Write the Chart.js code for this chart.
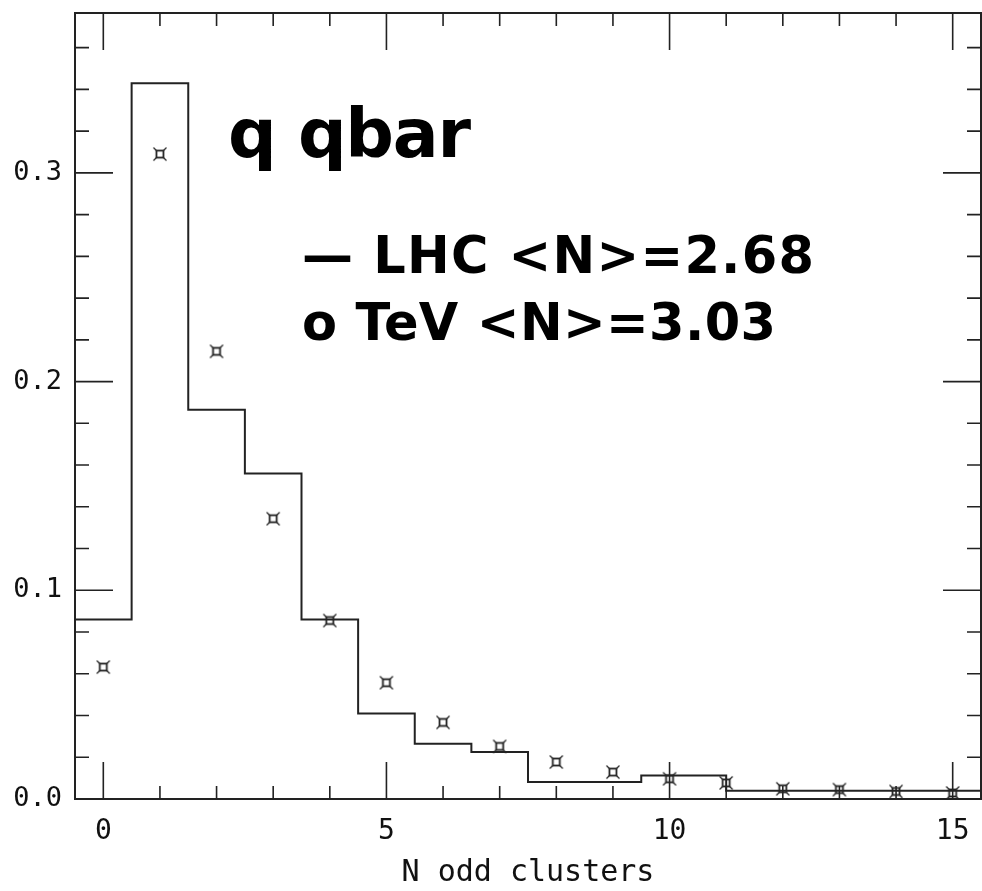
<!DOCTYPE html>
<html>
<head>
<meta charset="utf-8">
<script src="https://cdn.jsdelivr.net/npm/chart.js@4"></script>
<style>
  body { margin: 0; background: #fff; }
  canvas { display: block; }
</style>
</head>
<body>
<canvas id="chart" width="982" height="891"></canvas>
<script>
// LHC histogram: bin edges and bin contents
const lhcEdges = [-0.5, 0.5, 1.5, 2.5, 3.5, 4.5, 5.5, 6.5, 7.5, 8.5, 9.5, 11, 15.5];
const lhcValues = [0.086, 0.343, 0.1865, 0.156, 0.086, 0.041, 0.0265, 0.0225, 0.0081, 0.0081, 0.0112, 0.004];

// TeV points
const tevN = [0, 1, 2, 3, 4, 5, 6, 7, 8, 9, 10, 11, 12, 13, 14, 15];
const tevValues = [0.0632, 0.309, 0.2145, 0.1343, 0.0855, 0.0557, 0.0367, 0.0252, 0.0177, 0.0129, 0.0097, 0.0077, 0.0049, 0.0045, 0.0036, 0.0029];

const xTickLabels = [0, 5, 10, 15];
const yTickLabels = [0, 0.1, 0.2, 0.3];

const ink = '#222';

// marker: small square with diagonal whiskers at the corners
function makeMarker() {
    const c = document.createElement('canvas');
    c.width = 16; c.height = 16;
    const g = c.getContext('2d');
    g.strokeStyle = ink;
    g.lineWidth = 1.8;
    g.strokeRect(4.5, 4.5, 7, 7);
    g.lineWidth = 1.2;
    [[4.5, 4.5, 1.5, 1.5], [11.5, 4.5, 14.5, 1.5], [4.5, 11.5, 1.5, 14.5], [11.5, 11.5, 14.5, 14.5]].forEach(l => {
        g.beginPath();
        g.moveTo(l[0], l[1]);
        g.lineTo(l[2], l[3]);
        g.stroke();
    });
    return c;
}

const histData = lhcEdges.map((x, i) => ({ x: x, y: lhcValues[Math.min(i, lhcValues.length - 1)] }));
const tevData = tevN.map((n, i) => ({ x: n, y: tevValues[i] }));

// draw text stretched to the width it has in the picture
function fitText(ctx, text, x, y, font, width) {
    ctx.font = font;
    ctx.letterSpacing = '0px';
    const w = ctx.measureText(text).width;
    ctx.letterSpacing = ((width - w) / (text.length - 1)).toFixed(2) + 'px';
    ctx.fillText(text, x, y);
    ctx.letterSpacing = '0px';
}

function noPad(s) {
    s.paddingTop = 0; s.paddingBottom = 0; s.paddingLeft = 0; s.paddingRight = 0;
}

const framePlugin = {
    id: 'frame',
    afterDraw(chart) {
        const ctx = chart.ctx;
        const a = chart.chartArea;
        const xs = chart.scales.x;
        const ys = chart.scales.y;
        ctx.save();
        ctx.strokeStyle = ink;
        ctx.lineWidth = 2;
        ctx.strokeRect(a.left, a.top, a.right - a.left, a.bottom - a.top);

        ctx.lineWidth = 1.6;
        ctx.beginPath();
        for (let v = 0; v <= 15; v++) {
            const px = xs.getPixelForValue(v);
            const len = v % 5 === 0 ? 37 : 13;
            ctx.moveTo(px, a.bottom); ctx.lineTo(px, a.bottom - len);
            ctx.moveTo(px, a.top); ctx.lineTo(px, a.top + len);
        }
        for (let k = 0; k <= 18; k++) {
            const py = ys.getPixelForValue(k * 0.02);
            const len = k % 5 === 0 ? 38 : 14;
            ctx.moveTo(a.left, py); ctx.lineTo(a.left + len, py);
            ctx.moveTo(a.right, py); ctx.lineTo(a.right - len, py);
        }
        ctx.stroke();

        ctx.fillStyle = '#000';
        ctx.textBaseline = 'alphabetic';
        ctx.textAlign = 'left';
        fitText(ctx, 'q qbar', 228, 157, 'bold 68px "DejaVu Sans"', 243);
        fitText(ctx, '\u2014 LHC <N>=2.68', 302, 273, 'bold 51px "DejaVu Sans"', 512);
        fitText(ctx, 'o TeV <N>=3.03', 302, 340, 'bold 51px "DejaVu Sans"', 474);
        ctx.restore();
    }
};

new Chart(document.getElementById('chart'), {
    type: 'scatter',
    data: {
        datasets: [{
            type: 'line',
            label: 'LHC',
            data: histData,
            stepped: 'before',
            borderColor: ink,
            borderWidth: 2,
            pointRadius: 0,
            fill: false
        }, {
            label: 'TeV',
            data: tevData,
            pointStyle: makeMarker(),
            pointRadius: 8
        }]
    },
    options: {
        responsive: false,
        animation: false,
        layout: { autoPadding: false, padding: { left: 0, top: 13, right: 1, bottom: 0 } },
        plugins: { legend: { display: false }, tooltip: { enabled: false } },
        scales: {
            x: {
                type: 'linear',
                min: -0.5,
                max: 15.5,
                grid: { display: false, drawTicks: false },
                border: { display: false },
                afterBuildTicks: s => { s.ticks = xTickLabels.map(v => ({ value: v })); },
                afterFit: s => { s.height = 92; noPad(s); },
                ticks: {
                    color: '#111',
                    padding: 16,
                    maxRotation: 0,
                    font: { family: 'DejaVu Sans Mono', size: 28 },
                    callback: v => String(v)
                },
                title: {
                    display: true,
                    text: 'N odd clusters',
                    color: '#111',
                    padding: { top: 0, bottom: 0 },
                    font: { family: 'DejaVu Sans Mono', size: 30 }
                }
            },
            y: {
                type: 'linear',
                min: 0,
                max: 0.3766,
                grid: { display: false, drawTicks: false },
                border: { display: false },
                afterBuildTicks: s => { s.ticks = yTickLabels.map(v => ({ value: v })); },
                afterFit: s => { s.width = 75; noPad(s); },
                ticks: {
                    color: '#111',
                    padding: 13,
                    font: { family: 'DejaVu Sans Mono', size: 27 },
                    callback: v => v.toFixed(1)
                }
            }
        }
    },
    plugins: [framePlugin]
});
</script>
</body>
</html>
